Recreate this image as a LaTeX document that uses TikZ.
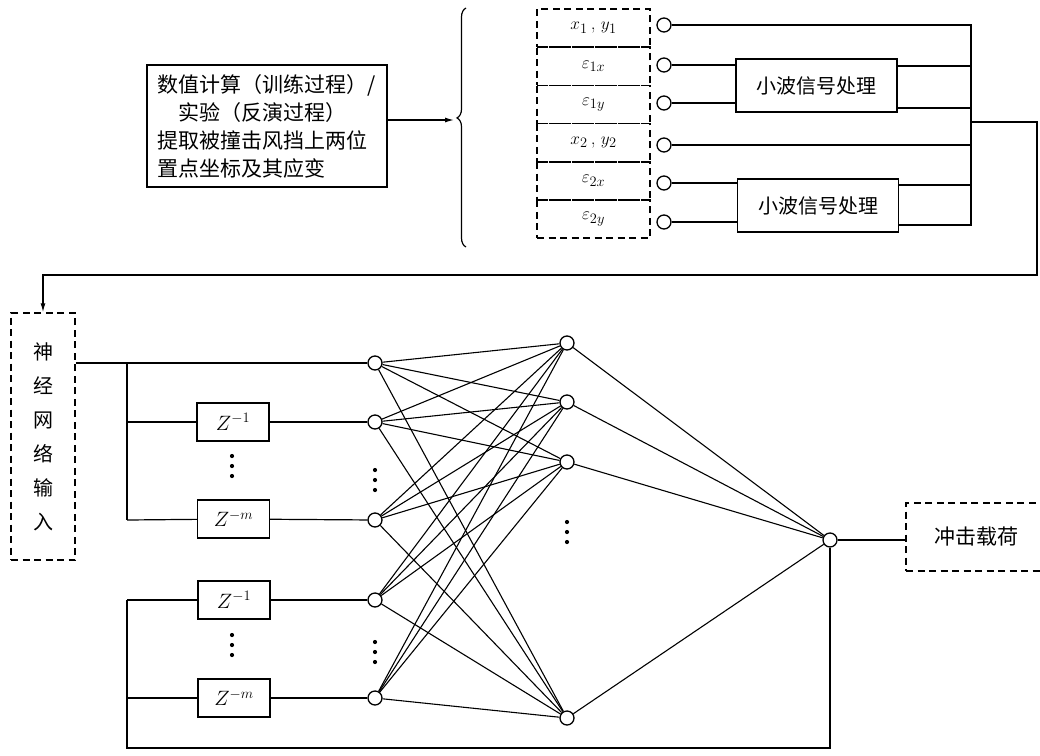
\documentclass[tikz,border=0pt]{standalone}
\usepackage{fontspec}
\newfontfamily\cjk{Noto Sans CJK SC}
\usetikzlibrary{decorations.pathreplacing,arrows.meta}
\begin{document}
\begin{tikzpicture}[x=1pt,y=-1pt,
  ln/.style={line width=1.2pt},
  nl/.style={line width=1.1pt},
  solidbox/.style={draw,line width=1.4pt,inner sep=0pt},
  dbox/.style={draw,dash pattern=on 7pt off 4.5pt,line width=1.5pt,inner sep=0pt},
  nd/.style={circle,draw,line width=1.3pt,fill=white,minimum size=14pt,inner sep=0pt},
  zbox/.style={solidbox,minimum width=72pt,minimum height=38pt,font=\fontsize{21}{24}\selectfont},
  wbox/.style={solidbox,minimum width=161pt,minimum height=53pt,font=\cjk\fontsize{20}{24}\selectfont},
  rowbox/.style={dbox,minimum width=113pt,minimum height=38.2pt,font=\fontsize{19}{22}\selectfont},
]
\useasboundingbox (0,0) rectangle (1040,755);
\clip (0,0) rectangle (1040,755);

% source box
\node[solidbox,minimum width=240pt,minimum height=122pt,align=left,
  font=\cjk\fontsize{21}{28}\selectfont] (src) at (267,126)
  {数值计算（训练过程）/\\\hspace*{1em}实验（反演过程）\\提取被撞击风挡上两位\\置点坐标及其应变};
\coordinate (bt) at (454,120);
\draw[ln,-{Latex[length=9pt,width=5pt]}] ([yshift=6pt]src.east) -- (bt);
\draw[ln,decorate,decoration={brace,amplitude=9pt,aspect=0.54}] (466,247) -- (466,8);

% input rows
\node[rowbox] (r1) at (593.5,28.1)  {$x_1$\,,\;$y_1$};
\node[rowbox] (r2) at (593.5,66.3)  {$\varepsilon_{1x}$};
\node[rowbox] (r3) at (593.5,104.5) {$\varepsilon_{1y}$};
\node[rowbox] (r4) at (593.5,142.7) {$x_2$\,,\;$y_2$};
\node[rowbox] (r5) at (593.5,180.9) {$\varepsilon_{2x}$};
\node[rowbox] (r6) at (593.5,219.1) {$\varepsilon_{2y}$};

\node[nd] (c1) at (664,25)  {};
\node[nd] (c2) at (664,65)  {};
\node[nd] (c3) at (664,103) {};
\node[nd] (c4) at (664,145) {};
\node[nd] (c5) at (664,183) {};
\node[nd] (c6) at (664,222) {};

\node[wbox] (w1) at (816.5,85.5) {小波信号处理};
\node[wbox] (w2) at (818,205.5) {小波信号处理};

\coordinate (bTop) at (971,25);
\coordinate (bBot) at (971,225);
\coordinate (bOut) at (971,122);
\coordinate (rr2) at (1037,275);

\draw[ln] (c1) -- (bTop) -- (bBot);
\draw[ln] (c2) -- (c2 -| w1.west);
\draw[ln] (c3) -- (c3 -| w1.west);
\draw[ln] (c4) -- (c4 -| bTop);
\draw[ln] (c5) -- (c5 -| w2.west);
\draw[ln] (c6) -- (c6 -| w2.west);
\draw[ln] ([yshift=19.5pt]w1.east) -- ++(74,0);
\draw[ln] ([yshift=-22.5pt]w1.east) -- ++(74,0);
\draw[ln] ([yshift=20.5pt]w2.east) -- ++(73,0);
\draw[ln] ([yshift=-19.5pt]w2.east) -- ++(73,0);

% NN input box
\node[dbox,minimum width=64pt,minimum height=247pt,align=center,
  font=\cjk\fontsize{20}{34}\selectfont] (inb) at (43,436.5)
  {神\\经\\网\\络\\输\\入};
\draw[ln,-{Latex[length=9pt,width=5pt]}] (bOut) -| (rr2) -| (inb.north);

% input layer
\node[nd] (i1) at (375,363) {};
\node[nd] (i2) at (375,422) {};
\node[nd] (i3) at (375,520) {};
\node[nd] (i4) at (375,600) {};
\node[nd] (i5) at (375,698) {};

\node[zbox] (z1) at (233,422) {$Z^{-1}$};
\node[zbox] (z2) at (233.5,519) {$Z^{-m}$};
\node[zbox] (z3) at (234,600) {$Z^{-1}$};
\node[zbox] (z4) at (234,698) {$Z^{-m}$};

% vertical ellipsis dots
\foreach \x/\y in {232/466, 375/480, 232/645, 375/652, 567/532}
  \foreach \d in {-10,0,10}
    \fill (\x,\y+\d) circle (2.1pt);

\coordinate (jA) at (127,363);
\coordinate (jB) at (127,520);
\coordinate (jC) at (127,600);
\coordinate (jD) at (127,748);

\draw[ln] (inb.east |- i1) -- (i1);
\draw[ln] (jA) -- (jB);
\draw[ln] (jA |- i2) -- (z1) -- (i2);
\draw[ln] (jB) -- (z2) -- (i3);
\draw[ln] (jC) -- (z3) -- (i4);
\draw[ln] (jC |- i5) -- (z4) -- (i5);

% hidden + output
\node[nd] (h1) at (567,343) {};
\node[nd] (h2) at (567,402) {};
\node[nd] (h3) at (567,462) {};
\node[nd] (h4) at (567,718) {};
\node[nd] (o) at (830,540) {};

\foreach \a in {i1,i2,i3,i4,i5}
  \foreach \b in {h1,h2,h3,h4}
    \draw[nl] (\a) -- (\b);
\foreach \b in {h1,h2,h3,h4}
  \draw[nl] (\b) -- (o);

\draw[ln] (jC) -- (jD) -| (o);

\node[dbox,minimum width=140pt,minimum height=68pt,
  font=\cjk\fontsize{21}{24}\selectfont] (load) at (976,537) {冲击载荷};
\draw[ln] (o) -- (o -| load.west);
\end{tikzpicture}
\end{document}
